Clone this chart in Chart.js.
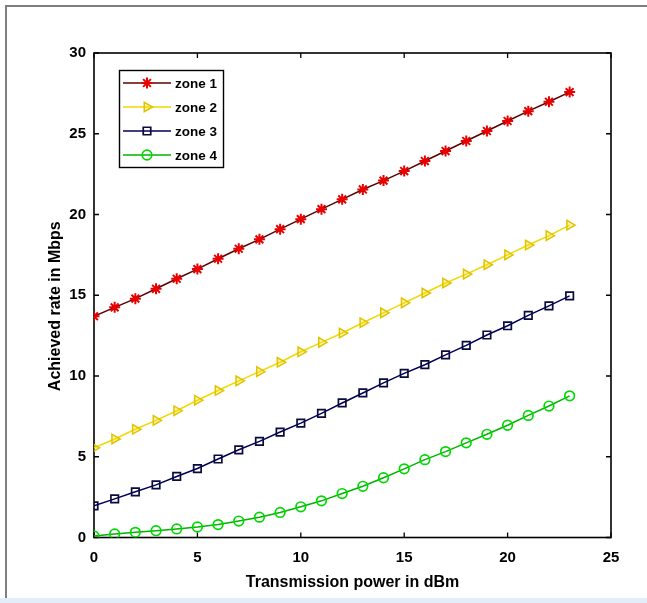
<!DOCTYPE html>
<html><head><meta charset="utf-8">
<script src="https://cdn.jsdelivr.net/npm/chart.js@4.4.1/dist/chart.umd.min.js"></script>
<style>
html,body{margin:0;padding:0;background:#fff;}
#wrap{position:relative;width:647px;height:603px;overflow:hidden;background:#fff;}
#frame{position:absolute;left:5px;top:5px;width:660px;height:593px;border-top:2px solid #7f7f7f;border-left:2px solid #7f7f7f;box-sizing:border-box;}
#strip{position:absolute;left:0;top:598px;width:647px;height:5px;background:#e3edf9;}
canvas{position:absolute;left:0;top:0;}
</style></head>
<body><div id="wrap"><div id="frame"></div><div id="strip"></div><canvas id="c" width="647" height="603"></canvas></div>
<script>
// ---- data ----
const powerDbm = [0,1,2,3,4,5,6,7,8,9,10,11,12,13,14,15,16,17,18,19,20,21,22,23];
const zone1 = [13.7,14.25,14.79,15.4,16.02,16.62,17.26,17.88,18.46,19.09,19.71,20.33,20.94,21.55,22.1,22.69,23.31,23.93,24.55,25.17,25.79,26.4,26.98,27.58];
const zone2 = [5.55,6.1,6.7,7.25,7.85,8.5,9.1,9.7,10.27,10.85,11.5,12.08,12.66,13.3,13.91,14.53,15.14,15.76,16.31,16.89,17.5,18.11,18.69,19.34];
const zone3 = [1.96,2.39,2.83,3.26,3.78,4.27,4.86,5.43,5.95,6.53,7.08,7.69,8.33,8.95,9.57,10.16,10.7,11.31,11.9,12.54,13.11,13.75,14.34,14.96];
const zone4 = [0.1,0.22,0.32,0.42,0.53,0.65,0.8,1.02,1.26,1.55,1.9,2.27,2.72,3.17,3.7,4.25,4.82,5.32,5.86,6.39,6.95,7.56,8.14,8.77];
const seriesNames = ['zone 1','zone 2','zone 3','zone 4'];
const xTickStep = 5, xMin = 0, xMax = 25;
const yTickStep = 5, yMin = 0, yMax = 30;
const xTitle = 'Transmission power in dBm';
const yTitle = 'Achieved rate in Mbps';

const FONT = '"Liberation Sans", Arial, Helvetica, sans-serif';
const toPts = ys => ys.map((y,i)=>({x: powerDbm[i], y}));

const styles = [
  {line:'#5c0000', pt:'#e80000', bg:'#e80000', style:'star', rot:0, r:5.5, bw:2},
  {line:'#f0d800', pt:'#e0c200', bg:'rgba(245,225,0,0.3)', style:'triangle', rot:90, r:5.5, bw:1.5},
  {line:'#00005c', pt:'#0a0a3c', bg:'rgba(0,0,0,0)', style:'rect', rot:0, r:5.3, bw:1.7},
  {line:'#00b400', pt:'#00d800', bg:'rgba(0,0,0,0)', style:'circle', rot:0, r:4.8, bw:1.7}
];
const allSeries = [zone1, zone2, zone3, zone4];

const datasets = allSeries.map((s,i)=>({
  label: seriesNames[i],
  data: toPts(s),
  borderColor: styles[i].line,
  borderWidth: 1.5,
  pointStyle: styles[i].style,
  pointRotation: styles[i].rot,
  pointRadius: styles[i].r,
  pointBorderColor: styles[i].pt,
  pointBackgroundColor: styles[i].bg,
  pointBorderWidth: styles[i].bw,
  fill: false,
  tension: 0
}));

const boxPlugin = {
  id: 'boxTicks',
  beforeDatasetsDraw(chart) {
    const {ctx, chartArea: a, scales} = chart;
    ctx.save();
    ctx.strokeStyle = '#000';
    ctx.lineWidth = 1.6;
    ctx.strokeRect(a.left, a.top, a.right - a.left, a.bottom - a.top);
    ctx.lineWidth = 1.3;
    const L = 5;
    ctx.beginPath();
    scales.x.ticks.forEach(t => {
      const px = scales.x.getPixelForValue(t.value);
      ctx.moveTo(px, a.bottom); ctx.lineTo(px, a.bottom - L);
      ctx.moveTo(px, a.top); ctx.lineTo(px, a.top + L);
    });
    scales.y.ticks.forEach(t => {
      const py = scales.y.getPixelForValue(t.value);
      ctx.moveTo(a.left, py); ctx.lineTo(a.left + L, py);
      ctx.moveTo(a.right, py); ctx.lineTo(a.right - L, py);
    });
    ctx.stroke();
    // y axis title (rotated), drawn slightly below the axis centre as in the reference
    const cy = (a.top + a.bottom) / 2 + 11;
    ctx.translate(56, cy);
    ctx.rotate(-Math.PI / 2);
    ctx.fillStyle = '#000';
    ctx.font = 'bold 16px ' + FONT;
    ctx.textAlign = 'center';
    ctx.textBaseline = 'middle';
    ctx.fillText(yTitle, 0, 0);
    ctx.restore();
  }
};

const legendPlugin = {
  id: 'innerLegend',
  afterDraw(chart) {
    const ctx = chart.ctx;
    const bx = 119.5, by = 70.5, bw = 104, bh = 97;
    ctx.save();
    ctx.fillStyle = '#fff';
    ctx.fillRect(bx, by, bw, bh);
    ctx.strokeStyle = '#000';
    ctx.lineWidth = 1.4;
    ctx.strokeRect(bx, by, bw, bh);
    chart.data.datasets.forEach((ds, i) => {
      const y = 83 + i * 24;
      ctx.strokeStyle = ds.borderColor;
      ctx.lineWidth = 1.6;
      ctx.beginPath(); ctx.moveTo(123, y); ctx.lineTo(171, y); ctx.stroke();
      ctx.strokeStyle = ds.pointBorderColor;
      ctx.fillStyle = ds.pointBackgroundColor;
      ctx.lineWidth = ds.pointBorderWidth;
      if (Chart.helpers && Chart.helpers.drawPoint) {
        Chart.helpers.drawPoint(ctx, {pointStyle: ds.pointStyle, rotation: ds.pointRotation, radius: ds.pointRadius, borderWidth: ds.pointBorderWidth}, 147, y);
      }
      ctx.fillStyle = '#000';
      ctx.font = 'bold 13.5px ' + FONT;
      ctx.textBaseline = 'middle';
      ctx.textAlign = 'left';
      ctx.fillText(ds.label, 175, y + 1);
    });
    ctx.restore();
  }
};

new Chart(document.getElementById('c'), {
  type: 'line',
  data: { datasets },
  plugins: [boxPlugin, legendPlugin],
  options: {
    responsive: false,
    animation: false,
    devicePixelRatio: 1,
    layout: { padding: { left: 46, top: 53, right: 36, bottom: 10.4 } },
    plugins: { legend: { display: false }, tooltip: { enabled: false } },
    scales: {
      x: {
        type: 'linear', min: xMin, max: xMax,
        ticks: { stepSize: xTickStep, color: '#000', font: { family: FONT, size: 15, weight: 'bold' }, padding: 11 },
        grid: { display: false, drawTicks: false },
        border: { display: false },
        title: { display: true, text: xTitle, color: '#000', font: { family: FONT, size: 16, weight: 'bold' }, padding: 0 },
        afterFit(s) { s.height = 55.1; }
      },
      y: {
        type: 'linear', min: yMin, max: yMax,
        ticks: { stepSize: yTickStep, color: '#000', font: { family: FONT, size: 15, weight: 'bold' }, padding: 8 },
        grid: { display: false, drawTicks: false },
        border: { display: false },
        title: { display: false, text: yTitle },
        afterFit(s) { s.width = 48; }
      }
    }
  }
});
</script>
</body></html>
